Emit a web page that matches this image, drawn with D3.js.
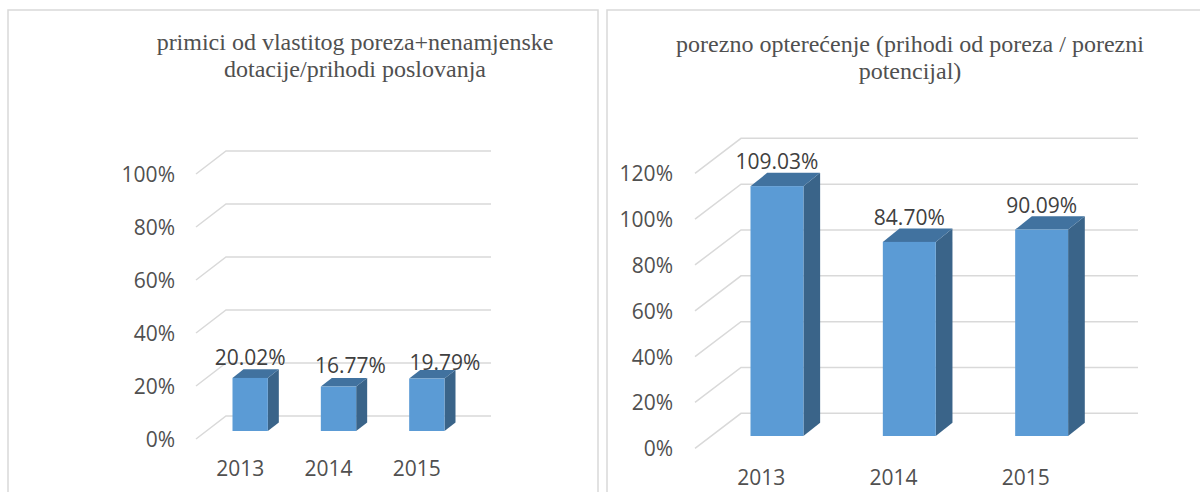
<!DOCTYPE html>
<html><head><meta charset="utf-8">
<script src="https://cdn.jsdelivr.net/npm/d3@7"></script>
<style>html,body{margin:0;padding:0;background:#fff;}svg{display:block;}</style>
</head><body>
<svg id="c" width="1200" height="492"></svg>
<script>
// ---- data ----
const years = ["2013", "2014", "2015"];
const leftTitle = ["primici od vlastitog poreza+nenamjenske", "dotacije/prihodi poslovanja"];
const leftValues = [20.02, 16.77, 19.79];
const leftTicks = [0, 20, 40, 60, 80, 100];
const rightTitle = ["porezno opterećenje (prihodi od poreza / porezni", "potencijal)"];
const rightValues = [109.03, 84.70, 90.09];
const rightTicks = [0, 20, 40, 60, 80, 100, 120];

// ---- layout / style ----
const svg = d3.select("#c");
const C = {front: "#5B9BD5", top: "#41729F", side: "#3A6489", grid: "#D9D9D9", text: "#505050", border: "#D9D9D9"};
const sans = "'Open Sans', sans-serif";
const serif = "'Liberation Serif', 'Times New Roman', serif";
const fs = 21;

// panel borders
svg.append("rect").attr("x", 8).attr("y", 10).attr("width", 590).attr("height", 500)
  .attr("fill", "none").attr("stroke", C.border).attr("stroke-width", 1.5);
svg.append("rect").attr("x", 607).attr("y", 10).attr("width", 620).attr("height", 500)
  .attr("fill", "none").attr("stroke", C.border).attr("stroke-width", 1.5);

function drawChart(o) {
  const g = svg.append("g");
  const y = d3.scaleLinear().domain([0, o.max]).range([o.back0, o.backTop]);
  const W = o.wallX1 - o.wallX0;
  const xb = d3.scaleBand().domain(o.cats)
    .range([o.wallX0 + o.barShiftX, o.wallX0 + o.barShiftX + W])
    .paddingInner(0.6).paddingOuter(0.3);
  const xf = d3.scaleBand().domain(o.cats)
    .range([o.wallX0 - o.gdx, o.wallX0 - o.gdx + W]);

  o.ticks.forEach(t => {
    const yy = y(t);
    g.append("path")
      .attr("d", `M${o.wallX0 - o.gdx},${yy + o.gdy}L${o.wallX0},${yy}L${o.wallX1},${yy}`)
      .attr("fill", "none").attr("stroke", C.grid).attr("stroke-width", 1.5);
    g.append("text").attr("x", o.labelX).attr("y", yy + o.gdy)
      .attr("text-anchor", "end").attr("dominant-baseline", "central")
      .attr("font-family", sans).attr("font-size", fs).attr("fill", C.text)
      .text(t + "%");
  });

  o.cats.forEach((c, i) => {
    const v = o.values[i];
    const x0 = xb(c), x1 = x0 + xb.bandwidth();
    const yb = y(0) + o.barShiftY, yt = y(v) + o.barShiftY;
    const dx = o.bdx, dy = o.bdy;
    g.append("path").attr("d", `M${x1},${yt}L${x1 + dx},${yt - dy}L${x1 + dx},${yb - dy}L${x1},${yb}Z`)
      .attr("fill", C.side);
    g.append("path").attr("d", `M${x0},${yt}L${x0 + dx},${yt - dy}L${x1 + dx},${yt - dy}L${x1},${yt}Z`)
      .attr("fill", C.top);
    g.append("rect").attr("x", x0).attr("y", yt).attr("width", x1 - x0).attr("height", yb - yt)
      .attr("fill", C.front);
    g.append("text").attr("x", (x0 + x1) / 2 + o.valDx[i]).attr("y", yt - dy - o.valGap[i])
      .attr("text-anchor", "middle").attr("dominant-baseline", "central")
      .attr("font-family", sans).attr("font-size", fs).attr("fill", "#404040")
      .text(v.toFixed(2) + "%");
    g.append("text").attr("x", xf(c) + xf.bandwidth() / 2).attr("y", y(0) + o.gdy + 37)
      .attr("text-anchor", "middle")
      .attr("font-family", sans).attr("font-size", fs).attr("fill", C.text)
      .text(c);
  });

  o.title.forEach((line, i) => {
    g.append("text").attr("x", o.titleX).attr("y", o.titleY + i * 27)
      .attr("text-anchor", "middle").attr("font-family", serif).attr("font-size", 24)
      .attr("fill", C.text).text(line);
  });
}

drawChart({cats: years, values: leftValues, ticks: leftTicks, max: 100, title: leftTitle,
  wallX0: 226, wallX1: 491, back0: 416, backTop: 151, gdx: 30, gdy: 23,
  barShiftX: -20, barShiftY: 15, bdx: 11, bdy: 8.6, labelX: 175,
  valDx: [0, 12, 18], valGap: [12, 12.5, 8], titleX: 355, titleY: 50});

drawChart({cats: years, values: rightValues, ticks: rightTicks, max: 120, title: rightTitle,
  wallX0: 741, wallX1: 1138, back0: 413.3, backTop: 138.3, gdx: 46, gdy: 35,
  barShiftX: -30.2, barShiftY: 22.7, bdx: 16.7, bdy: 13.3, labelX: 673,
  valDx: [0, 0, 0], valGap: [11.5, 11.5, 11.5], titleX: 910, titleY: 52});
</script>
</body></html>
